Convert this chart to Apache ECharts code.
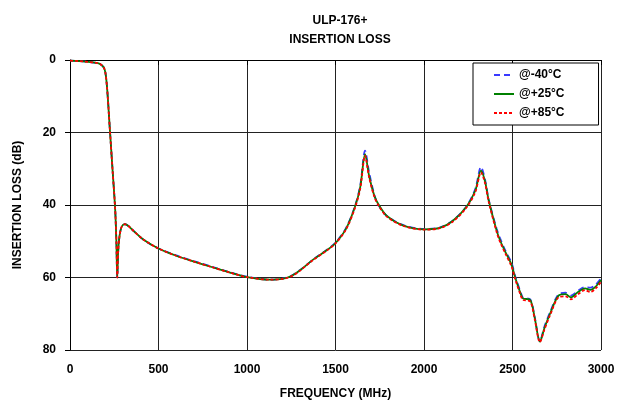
<!DOCTYPE html>
<html>
<head>
<meta charset="utf-8">
<script src="https://cdn.jsdelivr.net/npm/echarts@6/dist/echarts.min.js"></script>
<style>
  html, body { margin: 0; padding: 0; background: #fff; }
  #chart { width: 619px; height: 412px; }
</style>
</head>
<body>
<div id="chart"></div>
<script>
// frequency points (MHz)
const freq = [0, 50, 100, 150, 170, 190, 200, 210, 225, 240, 255, 262, 267, 272, 280, 292, 310, 330, 360, 414,
  500, 600, 700, 800, 900, 1000, 1130, 1200, 1250, 1300, 1375, 1450, 1500, 1560, 1610, 1640, 1667, 1690, 1720, 1745, 1790, 1880,
  2000, 2090, 2160, 2240, 2290, 2322, 2345, 2365, 2410, 2430, 2460, 2495, 2515, 2550, 2560, 2600, 2625, 2655, 2680, 2712,
  2760, 2800, 2830, 2870, 2910, 2940, 2970, 3000]

// insertion loss (dB) per temperature
const lossM40 = [0.2, 0.3, 0.5, 0.8, 1.1, 2.0, 3.5, 8, 19, 30, 41, 50, 60, 53, 48.5, 46, 45.3, 45.8, 47.2, 49.5,
  52, 53.9, 55.5, 57, 58.5, 59.8, 60.6, 60.3, 59.5, 57.9, 55, 52.4, 50.4, 46.3, 40.3, 34.5, 25, 31, 37.3, 40.2, 43, 45.5,
  46.6, 46.2, 44.4, 40.4, 35.5, 29.5, 33, 38.4, 46.5, 49.2, 52.6, 56, 59.6, 64.6, 65.6, 66, 70.8, 77.6, 73.6, 69.6,
  64.6, 64.2, 65, 63.7, 62.6, 62.8, 62, 60.2]
const lossP25 = [0.2, 0.3, 0.5, 0.8, 1.1, 2.0, 3.5, 8, 19, 30, 41, 50, 60, 53, 48.5, 46, 45.3, 45.8, 47.2, 49.5,
  52, 54, 55.6, 57.1, 58.6, 59.9, 60.6, 60.4, 59.6, 58, 55, 52.5, 50.5, 46.5, 40.5, 35, 26, 32, 37.5, 40, 43, 45.6,
  46.7, 46.3, 44.5, 40.5, 36, 30.5, 33.5, 38.6, 47, 49.8, 53, 56.5, 60, 65, 65.8, 66.2, 71, 77.7, 74, 70,
  65, 64.6, 65.5, 64, 63, 63.4, 62.5, 60.7]
const lossP85 = [0.2, 0.3, 0.5, 0.8, 1.1, 2.0, 3.5, 8, 19, 30, 41, 50, 60, 53, 48.5, 46, 45.3, 45.8, 47.2, 49.5,
  52, 54, 55.6, 57.1, 58.6, 59.9, 60.6, 60.4, 59.7, 58.1, 55.1, 52.6, 50.6, 46.7, 40.8, 35.4, 26.4, 32.4, 37.8, 40.3, 43.2, 45.7,
  46.8, 46.4, 44.7, 40.7, 36.4, 31, 34, 39, 47.4, 50.2, 53.4, 57, 60.4, 65.4, 66.2, 66.6, 71.4, 77.8, 74.4, 70.4,
  65.5, 65.2, 66, 64.6, 63.5, 64, 63, 61.2]

const seriesNames = ['@-40°C', '@+25°C', '@+85°C']
const yTicks = [0, 20, 40, 60, 80]

const pairs = (vals) => freq.map((f, i) => [f, vals[i]])

const chart = echarts.init(document.getElementById('chart'))
const font = 'Liberation Sans'
const option = {
  animation: false,
  backgroundColor: '#fff',
  textStyle: { fontFamily: font, color: '#000' },
  title: {
    text: 'ULP-176+\nINSERTION LOSS',
    left: 335,
    top: 6,
    textAlign: 'center',
    textStyle: { fontFamily: font, fontSize: 12, fontWeight: 'bold', color: '#000', lineHeight: 19 },
  },
  legend: {
    orient: 'vertical',
    left: 473,
    top: 63,
    padding: [6, 34, 6, 20],
    itemWidth: 20,
    itemHeight: 14,
    itemGap: 7,
    backgroundColor: '#fff',
    borderColor: '#000',
    borderWidth: 1,
    borderRadius: 0,
    itemStyle: { opacity: 0 },
    data: seriesNames,
    textStyle: { fontFamily: font, fontSize: 12, fontWeight: 'bold', color: '#000' },
  },
  grid: {
    left: 70,
    right: 18,
    top: 60,
    bottom: 62,
    containLabel: false,
  },
  xAxis: {
    type: 'value',
    min: 0,
    max: 3000,
    interval: 500,
    name: 'FREQUENCY (MHz)',
    nameLocation: 'middle',
    nameGap: 38,
    nameTextStyle: { fontFamily: font, fontSize: 12, fontWeight: 'bold', color: '#000' },
    axisLine: { lineStyle: { color: '#000', width: 1 } },
    axisTick: { show: true, length: 5, lineStyle: { color: '#000' } },
    axisLabel: {
      margin: 14, fontFamily: font, fontSize: 12, fontWeight: 'bold', color: '#000',
      formatter: (v) => String(v),
    },
    splitLine: { show: true, lineStyle: { color: '#222', width: 1 } },
  },
  yAxis: {
    type: 'value',
    inverse: true,
    min: yTicks[0],
    max: yTicks[yTicks.length - 1],
    interval: 20,
    name: 'INSERTION LOSS (dB)',
    nameLocation: 'middle',
    nameGap: 46,
    nameRotate: 90,
    nameTextStyle: { fontFamily: font, fontSize: 12, fontWeight: 'bold', color: '#000' },
    axisLine: { show: true, lineStyle: { color: '#000', width: 1 } },
    axisTick: { show: true, length: 5, lineStyle: { color: '#000' } },
    axisLabel: { margin: 14, fontFamily: font, fontSize: 12, fontWeight: 'bold', color: '#000' },
    splitLine: { show: true, lineStyle: { color: '#222', width: 1 } },
  },
  series: [{
    name: seriesNames[0],
    type: 'line',
    symbol: 'none',
    smooth: 0.3,
    z: 2,
    lineStyle: { color: '#3a3aff', width: 1.8, type: [6, 4] },
    itemStyle: { color: '#3a3aff' },
    data: pairs(lossM40),
  }, {
    name: seriesNames[1],
    type: 'line',
    symbol: 'none',
    smooth: 0.3,
    z: 3,
    lineStyle: { color: '#008000', width: 1.8 },
    itemStyle: { color: '#008000' },
    data: pairs(lossP25),
  }, {
    name: seriesNames[2],
    type: 'line',
    symbol: 'none',
    smooth: 0.3,
    z: 4,
    lineStyle: { color: '#ff0000', width: 1.8, type: [3, 2] },
    itemStyle: { color: '#ff0000' },
    data: pairs(lossP85),
  }],
}
chart.setOption(option)
</script>
</body>
</html>
